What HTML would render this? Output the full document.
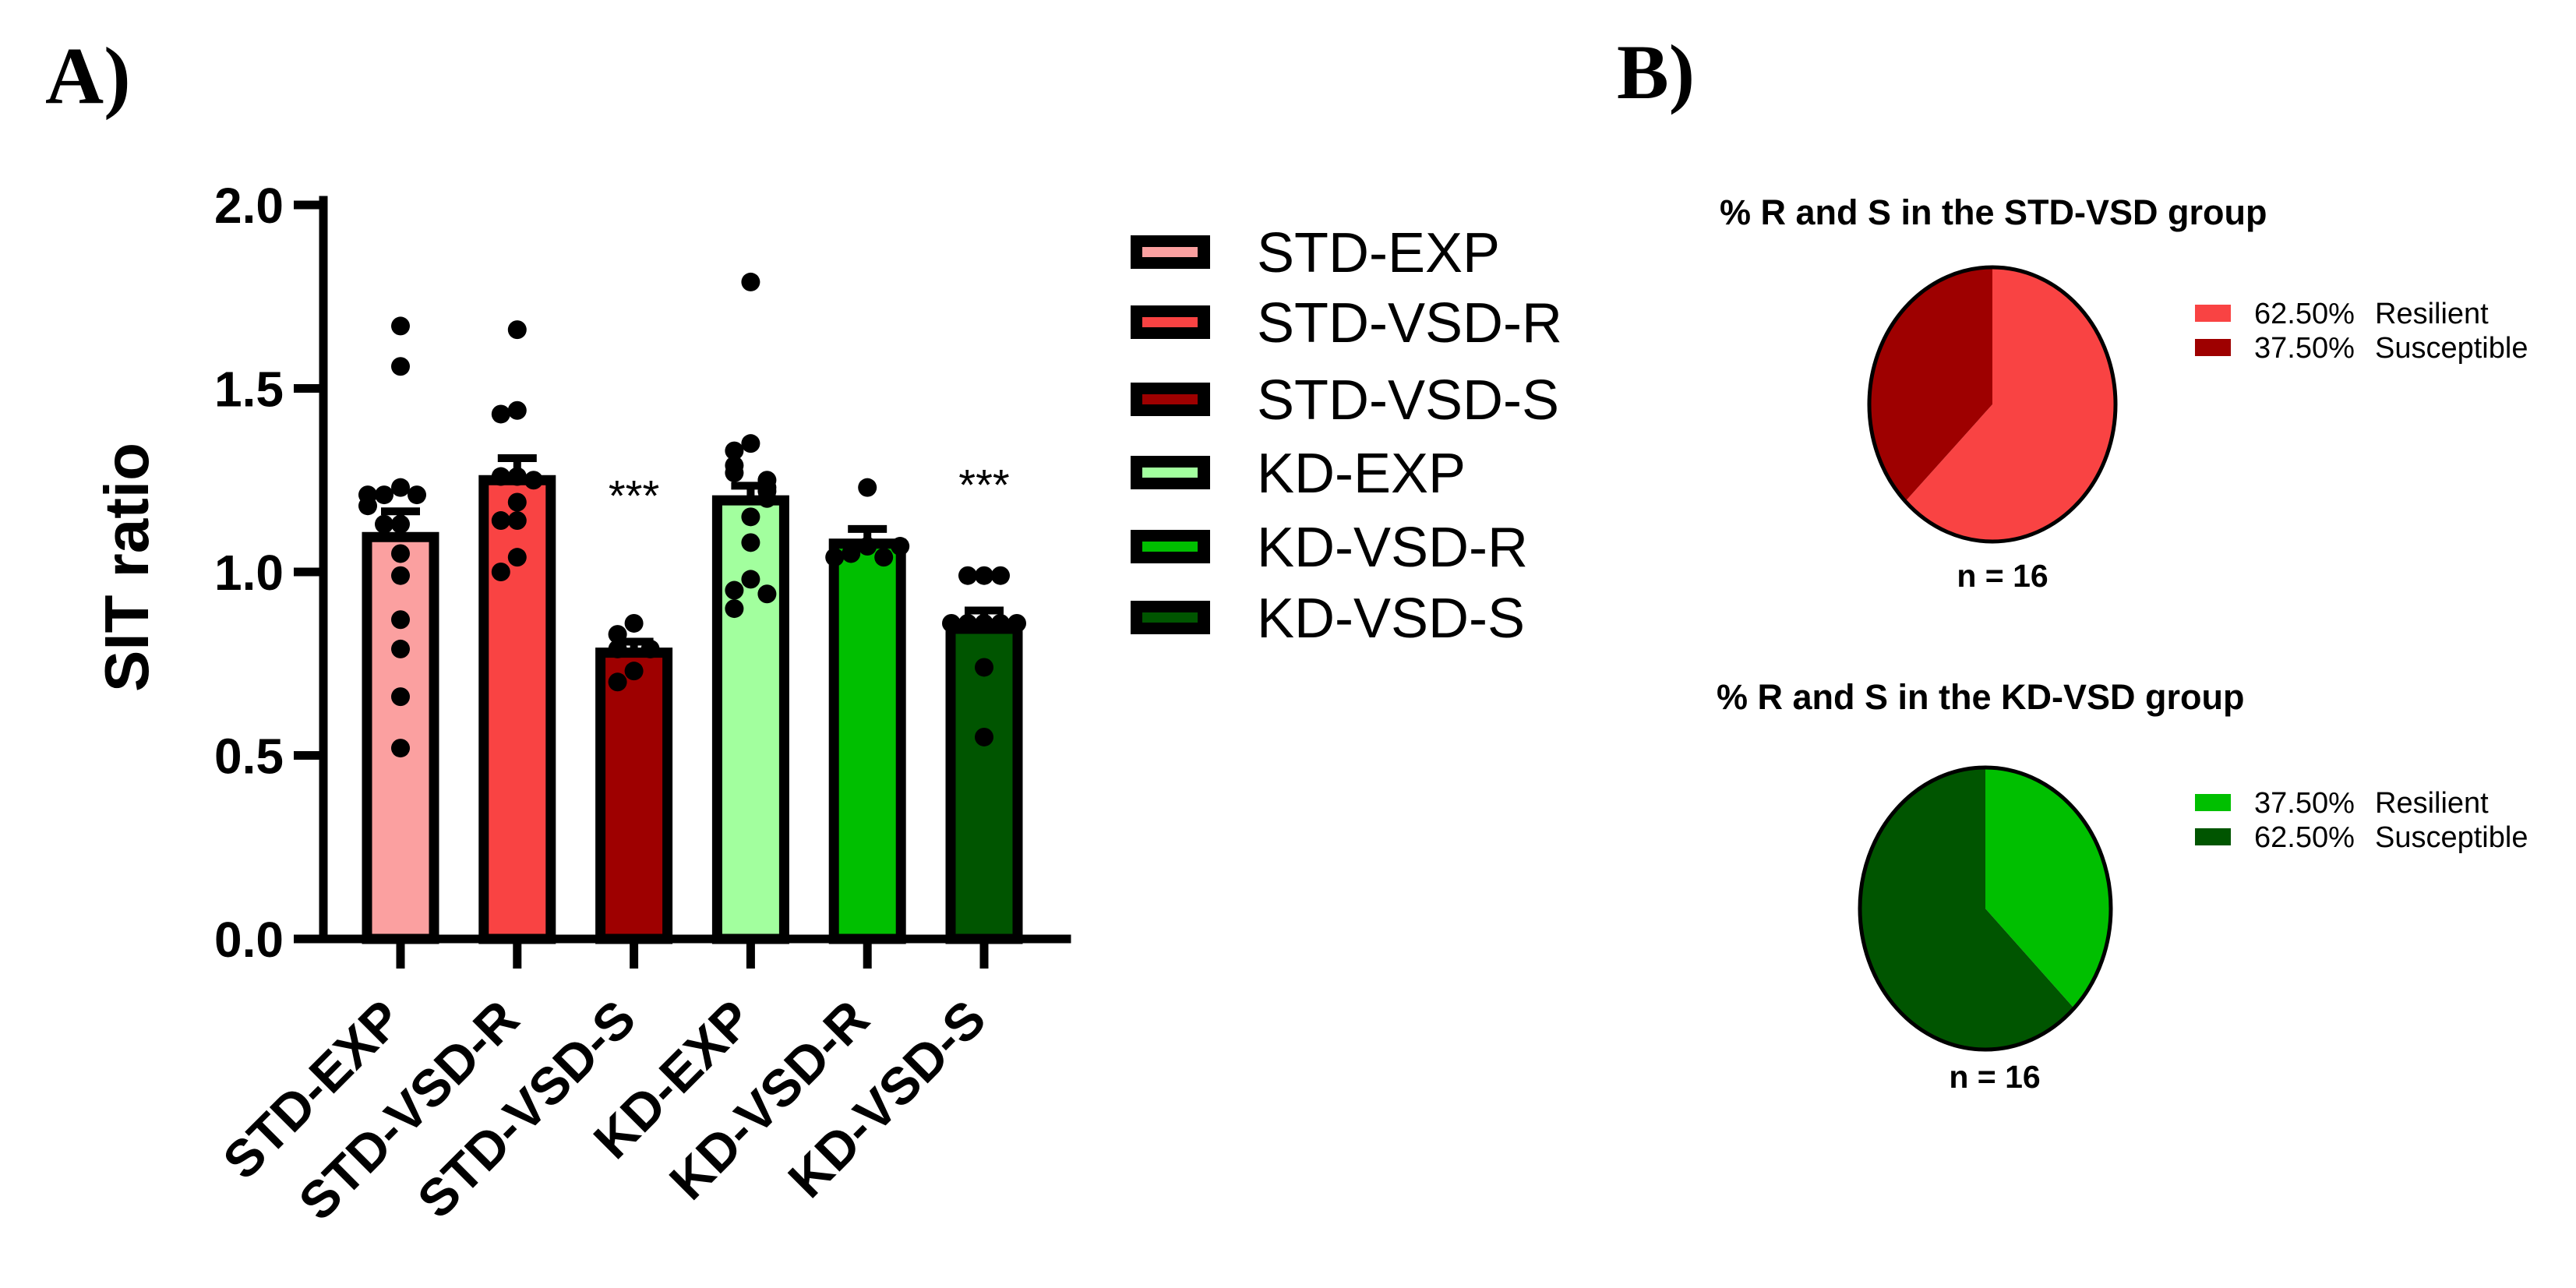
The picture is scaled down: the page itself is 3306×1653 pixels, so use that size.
<!DOCTYPE html>
<html><head><meta charset="utf-8"><style>
html,body{margin:0;padding:0;background:#fff;}
svg{display:block;}
</style></head><body>
<svg id="fig" width="3306" height="1653" viewBox="0 0 3306 1653" xmlns="http://www.w3.org/2000/svg">
<text x="58" y="132" font-family="Liberation Serif, serif" font-weight="bold" font-size="104">A)</text>
<text x="2075" y="126" font-family="Liberation Serif, serif" font-weight="bold" font-size="100">B)</text>
<g id="barchart"></g>
<g id="legend"></g>
<g id="pies"></g>
</svg>
<script>
const categories = ["STD-EXP","STD-VSD-R","STD-VSD-S","KD-EXP","KD-VSD-R","KD-VSD-S"];
const colors = ["#FBA0A0","#F94343","#9E0000","#A2FF9E","#00BF00","#005500"];
const means = [1.095,1.25,0.78,1.195,1.077,0.845];
const sems = [0.07,0.06,0.03,0.04,0.04,0.05];
const points = [
 [1.67,1.56,1.23,1.21,1.21,1.21,1.18,1.13,1.13,1.05,0.99,0.87,0.79,0.66,0.52],
 [1.66,1.44,1.43,1.26,1.26,1.25,1.19,1.14,1.14,1.04,1.0],
 [0.86,0.83,0.79,0.73,0.70,0.79],
 [1.79,1.35,1.33,1.29,1.27,1.25,1.23,1.22,1.20,1.15,1.08,0.98,0.95,0.94,0.90],
 [1.23,1.07,1.05,1.04,1.04,1.07],
 [0.99,0.99,0.99,0.86,0.86,0.86,0.86,0.74,0.55,0.86]
];
const signif = ["","","***","","","***"];
const signifLevel = [0,0,1.23,0,0,1.26];
const yTicks = [0,0.5,1.0,1.5,2.0];
const yTickLabels = ["0.0","0.5","1.0","1.5","2.0"];
const pieTitles = ["% R and S in the STD-VSD group","% R and S in the KD-VSD group"];
const pieValues = [[62.5,37.5],[37.5,62.5]];
const pieLabels = ["Resilient","Susceptible"];
const pieColors = [["#F94343","#9E0000"],["#00BF00","#005500"]];
const pieN = [16,16];

const NS="http://www.w3.org/2000/svg";
function mk(tag,attrs,parent){const e=document.createElementNS(NS,tag);for(const k in attrs)e.setAttribute(k,attrs[k]);parent.appendChild(e);return e;}
const X0=415, Y0=1205, Y2=263, step=149.8, firstC=514, barW=86;
const yS=v=>Y0-(v/2)*(Y0-Y2);
const xS=i=>firstC+i*step;
const bc=document.getElementById('barchart');
categories.forEach((c,i)=>{
 const cx=xS(i), top=yS(means[i]);
 const r=mk('rect',{x:cx-barW/2,y:top,width:barW,height:Y0-top,fill:colors[i],stroke:'#000','stroke-width':13},bc);
 
 
 const ey=yS(means[i]+sems[i]);
 const el=mk('path',{d:`M${cx},${top} V${ey} M${cx-25},${ey} H${cx+25}`,stroke:'#000','stroke-width':10,fill:'none'},bc);
 
 
 const placed=[];
 points[i].forEach(v=>{
  const py=yS(v);let k=0;
  placed.forEach(p=>{if(Math.abs(p-py)<22)k++;});
  placed.push(py);
  const pat=[0,-1,1,-2,2,-3,3];
  const px=cx+pat[k%7]*21;
  const d=mk('circle',{cx:px,cy:py,r:12,fill:'#000'},bc);
  
  
 });
 if(signif[i]){
  const t=mk('text',{x:cx,y:yS(signifLevel[i])+30,'text-anchor':'middle','font-family':'Liberation Sans, sans-serif','font-size':56},bc);
  t.textContent=signif[i];
  
  
 }
 const tk=mk('line',{x1:cx,y1:Y0,x2:cx,y2:Y0+38,stroke:'#000','stroke-width':11},bc);
 
 
 const lx=cx+6, ly=1312;
 const lb=mk('text',{x:lx,y:ly,'text-anchor':'end','font-family':'Liberation Sans, sans-serif','font-weight':'bold','font-size':67,transform:`rotate(-45 ${lx} ${ly})`},bc);
 lb.textContent=c;
 
 
});
const ax=mk('path',{d:`M${X0},${Y2-6} V${Y0} H1369`,stroke:'#000','stroke-width':11,fill:'none','stroke-linecap':'square'},bc);


yTicks.forEach((v,j)=>{
 const y=yS(v);
 const l=mk('line',{x1:377,y1:y,x2:X0,y2:y,stroke:'#000','stroke-width':11},bc);
 
 
 const t=mk('text',{x:364,y:y+23,'text-anchor':'end','font-family':'Liberation Sans, sans-serif','font-weight':'bold','font-size':64},bc);
 t.textContent=yTickLabels[j];
 
 
});
const yt=mk('text',{x:0,y:0,'text-anchor':'middle','font-family':'Liberation Sans, sans-serif','font-weight':'bold','font-size':80,transform:'translate(190,728) rotate(-90)'},bc);
yt.textContent="SIT ratio";


const lg=document.getElementById('legend');
const legY=[323,413,512,606,701,792];
categories.forEach((c,i)=>{
 const g=mk('g',{},lg);
 
 
 mk('rect',{x:1451,y:legY[i]-21,width:102,height:43,fill:'#000'},g);
 mk('rect',{x:1466,y:legY[i]-6,width:71,height:13,fill:colors[i]},g);
 const t=mk('text',{x:1613,y:legY[i]+26,'font-family':'Liberation Sans, sans-serif','font-size':72},g);
 t.textContent=c;
});
const pg=document.getElementById('pies');
const pieCfg=[{cx:2557,cy:519,rx:158,ry:176,ty:288,tx:2207,ly:[402,446],ny:753,nx:2570},
              {cx:2548,cy:1166,rx:161,ry:181,ty:910,tx:2203,ly:[1030,1074],ny:1396,nx:2560}];
pieValues.forEach((vals,p)=>{
 const c=pieCfg[p];
 const g=mk('g',{},pg);
 
 
 const tt=mk('text',{x:c.tx,y:c.ty,'font-family':'Liberation Sans, sans-serif','font-weight':'bold','font-size':45},g);
 tt.textContent=pieTitles[p];
 
 
 const tot=vals.reduce((a,b)=>a+b,0);let a0=0;
 vals.forEach((v,k)=>{
  const a1=a0+v/tot*2*Math.PI;
  const x0=c.cx+c.rx*Math.sin(a0),y0=c.cy-c.ry*Math.cos(a0);
  const x1=c.cx+c.rx*Math.sin(a1),y1=c.cy-c.ry*Math.cos(a1);
  const large=(a1-a0)>Math.PI?1:0;
  const s=mk('path',{d:`M${c.cx},${c.cy} L${x0},${y0} A${c.rx},${c.ry} 0 ${large} 1 ${x1},${y1} Z`,fill:pieColors[p][k]},g);
  
  
  a0=a1;
  mk('rect',{x:2817,y:c.ly[k]-11,width:46,height:22,fill:pieColors[p][k]},g);
  const t1=mk('text',{x:2893,y:c.ly[k]+13,'font-family':'Liberation Sans, sans-serif','font-size':38},g);
  t1.textContent=v.toFixed(2)+"%";
  const t2=mk('text',{x:3048,y:c.ly[k]+13,'font-family':'Liberation Sans, sans-serif','font-size':38},g);
  t2.textContent=pieLabels[k];
 });
 const o=mk('ellipse',{cx:c.cx,cy:c.cy,rx:c.rx,ry:c.ry,fill:'none',stroke:'#000','stroke-width':5},g);
 
 
 const n=mk('text',{x:c.nx,y:c.ny,'text-anchor':'middle','font-family':'Liberation Sans, sans-serif','font-weight':'bold','font-size':41},g);
 n.textContent="n = "+pieN[p];
 
 
});
</script>
</body></html>
